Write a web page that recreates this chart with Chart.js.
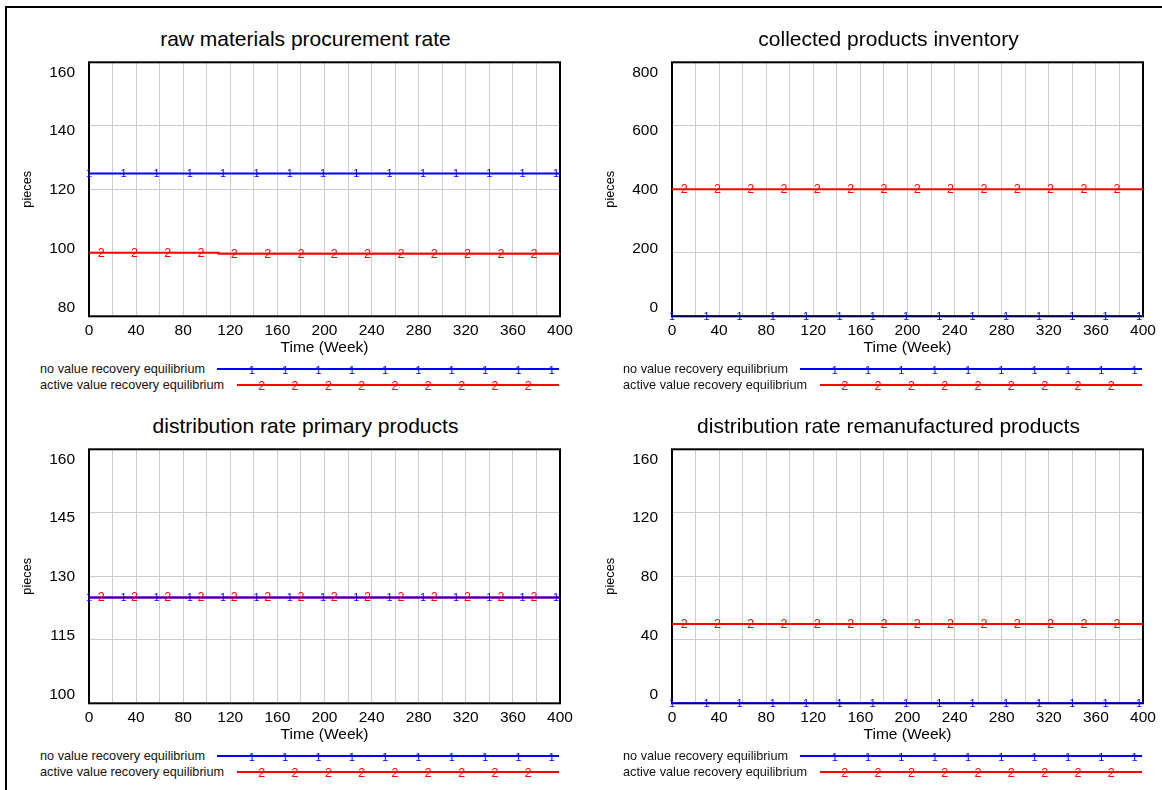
<!DOCTYPE html>
<html>
<head>
<meta charset="utf-8">
<script src="https://cdn.jsdelivr.net/npm/chart.js@4.4.1/dist/chart.umd.min.js"></script>
<style>
  html, body { margin: 0; padding: 0; background: #fff; }
  body { width: 1162px; height: 790px; overflow: hidden; position: relative;
         font-family: "Liberation Sans", Arial, sans-serif; }
  #frame { position: absolute; left: 5px; top: 6px; width: 1200px; height: 850px;
           border: 2px solid #000; box-sizing: border-box; }
  canvas { position: absolute; }
  .panel-title { position: absolute; width: 600px; text-align: center; font-size: 21px;
                 line-height: 25px; color: #000; white-space: nowrap; }
  .leg-text { position: absolute; font-size: 12.7px; line-height: 16px; color: #111; white-space: nowrap; }
  .leg-line { position: absolute; height: 2px; }
  .leg-mark { position: absolute; line-height: 14px; height: 14px; transform: translate(-50%, -50%); }
</style>
</head>
<body>
<div id="frame"></div>
<script>
// ---- time axis ----
const xGridWeeks  = [0, 20, 40, 60, 80, 100, 120, 140, 160, 180, 200, 220, 240, 260, 280, 300, 320, 340, 360, 380, 400];
const xTickLabels = [0, 40, 80, 120, 160, 200, 240, 280, 320, 360, 400];

// ---- series names ----
const seriesNames = ['no value recovery equilibrium', 'active value recovery equilibrium'];

// ---- raw materials procurement rate (pieces) ----
const procurementNoRecovery = [{ x: 0, y: 125 }, { x: 400, y: 125 }];
const procurementActive     = [{ x: 0, y: 100 }, { x: 110, y: 100 }, { x: 110, y: 99.7 }, { x: 400, y: 99.7 }];
const procurementTicks      = [80, 100, 120, 140, 160];

// ---- collected products inventory (pieces) ----
const inventoryNoRecovery = [{ x: 0, y: 0 }, { x: 400, y: 0 }];
const inventoryActive     = [{ x: 0, y: 400 }, { x: 400, y: 400 }];
const inventoryTicks      = [0, 200, 400, 600, 800];

// ---- distribution rate primary products (pieces) ----
const primaryNoRecovery = [{ x: 0, y: 125 }, { x: 400, y: 125 }];
const primaryActive     = [{ x: 0, y: 125 }, { x: 400, y: 125 }];
const primaryTicks      = [100, 115, 130, 145, 160];

// ---- distribution rate remanufactured products (pieces) ----
const remanNoRecovery = [{ x: 0, y: 0 }, { x: 400, y: 0 }];
const remanActive     = [{ x: 0, y: 50 }, { x: 400, y: 50 }];
const remanTicks      = [0, 40, 80, 120, 160];

// ---- weeks where the series number markers sit on each line ----
const markWeeksNoRecovery = [0, 29.3, 57.4, 85.7, 113.9, 142.2, 170.5, 198.8, 227, 255.3, 283.6, 311.8, 340, 368.3, 396.6];
const markWeeksActive     = [10.3, 38.6, 66.9, 95.1, 123.4, 151.7, 180, 208.3, 236.6, 264.9, 293.1, 321.5, 349.8, 378];

const FONT = '"Liberation Sans", Arial, sans-serif';
const BLUE = '#0000ff';
const RED = '#ff0000';
const GRID = '#cccccc';

// value of a piecewise series at a given week (last point at or before it)
function valueAt(points, week) {
  let v = points[0].y;
  for (const p of points) { if (p.x <= week) v = p.y; }
  return v;
}

// plot frame, series number markers and evenly spread y labels
const vensimStyle = {
  id: 'vensimStyle',
  beforeDraw(chart) {
    const items = chart.scales.y.getLabelItems();
    const n = items.length;
    items.forEach((it, i) => {
      if (!it._shifted) {
        it.options.translation[1] += -9 + 19 * (i / (n - 1));
        it._shifted = true;
      }
    });
  },
  beforeDatasetsDraw(chart) {
    const { ctx, chartArea: a } = chart;
    ctx.save();
    ctx.strokeStyle = '#000';
    ctx.lineWidth = 2;
    ctx.strokeRect(a.left, a.top, a.right - a.left, a.bottom - a.top);
    ctx.restore();
  },
  afterDatasetsDraw(chart) {
    const { ctx } = chart;
    const xs = chart.scales.x, ys = chart.scales.y;
    ctx.save();
    ctx.textAlign = 'center';
    ctx.textBaseline = 'middle';
    chart.data.datasets.forEach(ds => {
      ctx.fillStyle = ds.borderColor;
      ctx.font = ds.markSize + 'px ' + FONT;
      ds.marks.forEach(w => {
        const x = xs.getPixelForValue(w);
        const y = ys.getPixelForValue(valueAt(ds.data, w));
        ctx.fillText(ds.markText, x, y + 0.5);
      });
    });
    ctx.restore();
  }
};

const panels = [
  { title: 'raw materials procurement rate', l: 89, r: 560, t: 62, b: 316,
    ticks: procurementTicks, s1: procurementNoRecovery, s2: procurementActive },
  { title: 'collected products inventory', l: 672, r: 1143, t: 62, b: 316,
    ticks: inventoryTicks, s1: inventoryNoRecovery, s2: inventoryActive },
  { title: 'distribution rate primary products', l: 89, r: 560, t: 449, b: 703,
    ticks: primaryTicks, s1: primaryNoRecovery, s2: primaryActive },
  { title: 'distribution rate remanufactured products', l: 672, r: 1143, t: 449, b: 703,
    ticks: remanTicks, s1: remanNoRecovery, s2: remanActive }
];

function makePanel(p) {
  const yW = 80, topPad = 20, xH = 45, rightPad = 30;
  let width = yW + (p.r - p.l) + rightPad;
  let height = topPad + (p.b - p.t) + xH;

  // panel heading
  const h = document.createElement('div');
  h.className = 'panel-title';
  h.textContent = p.title;
  h.style.left = (p.l + 216.5 - 300) + 'px';
  h.style.top = (p.t - 36) + 'px';
  document.body.appendChild(h);

  const cv = document.createElement('canvas');
  cv.width = width; cv.height = height;
  cv.style.width = width + 'px'; cv.style.height = height + 'px';
  document.body.appendChild(cv);

  const chart = new Chart(cv, {
    type: 'line',
    data: {
      datasets: [
        { label: seriesNames[0], data: p.s1, borderColor: BLUE, borderWidth: 2, pointRadius: 0,
          tension: 0, marks: markWeeksNoRecovery, markText: '1', markSize: 11 },
        { label: seriesNames[1], data: p.s2, borderColor: RED, borderWidth: 2, pointRadius: 0,
          tension: 0, marks: markWeeksActive, markText: '2', markSize: 12.5 }
      ]
    },
    options: {
      responsive: false,
      maintainAspectRatio: false,
      animation: false,
      devicePixelRatio: 1,
      layout: { padding: { left: 0, right: rightPad, top: topPad, bottom: 0 } },
      plugins: {
        legend: { display: false },
        tooltip: { enabled: false },
        title: { display: false }
      },
      scales: {
        x: {
          type: 'linear', min: 0, max: 400,
          afterBuildTicks: s => { s.ticks = xGridWeeks.map(v => ({ value: v })); },
          afterFit: s => { s.height = xH; },
          ticks: {
            autoSkip: false, maxRotation: 0, padding: 5, color: '#000',
            font: { family: FONT, size: 15.5 },
            callback: v => (xTickLabels.includes(v) ? String(v) : '')
          },
          grid: { color: GRID, lineWidth: 1, drawTicks: false },
          border: { display: false },
          title: {
            display: true, text: 'Time (Week)', color: '#000',
            font: { family: FONT, size: 15.5 }, padding: { top: 0, bottom: 4.7 }
          }
        },
        y: {
          type: 'linear', min: p.ticks[0], max: p.ticks[p.ticks.length - 1],
          afterBuildTicks: s => { s.ticks = p.ticks.map(v => ({ value: v })); },
          afterFit: s => { s.width = yW; },
          ticks: { padding: 14, color: '#000', font: { family: FONT, size: 15.5 } },
          grid: { color: GRID, lineWidth: 1, drawTicks: false },
          border: { display: false },
          title: {
            display: true, text: 'pieces', color: '#000',
            font: { family: FONT, size: 12.7 }, padding: { top: 10.9, bottom: 0 }
          }
        }
      }
    },
    plugins: [vensimStyle]
  });

  // size the canvas so the plot area spans exactly the panel box, then place it
  const a0 = chart.chartArea;
  const dh = (p.b - p.t) - (a0.bottom - a0.top);
  const dw = (p.r - p.l) - (a0.right - a0.left);
  if (Math.abs(dh) > 0.01 || Math.abs(dw) > 0.01) {
    width += dw; height += dh;
    cv.style.width = width + 'px'; cv.style.height = height + 'px';
    chart.resize(width, height);
  }
  const a = chart.chartArea;
  cv.style.left = (p.l - a.left) + 'px';
  cv.style.top = (p.t - a.top) + 'px';

  addLegend(p);
}

function addLegend(p) {
  const rows = [
    { name: seriesNames[0], color: BLUE, dy: 53, start: 128, first: 162.7, count: 10, mark: '1', size: 11 },
    { name: seriesNames[1], color: RED, dy: 69, start: 148, first: 172.7, count: 9, mark: '2', size: 12.5 }
  ];
  rows.forEach(row => {
    const y = p.b + row.dy;
    const txt = document.createElement('div');
    txt.className = 'leg-text';
    txt.textContent = row.name;
    txt.style.left = (p.l - 49) + 'px';
    txt.style.top = (y - 8.5) + 'px';
    document.body.appendChild(txt);

    const ln = document.createElement('div');
    ln.className = 'leg-line';
    ln.style.background = row.color;
    ln.style.left = (p.l + row.start) + 'px';
    ln.style.width = (p.r - 1 - (p.l + row.start)) + 'px';
    ln.style.top = (y - 1) + 'px';
    document.body.appendChild(ln);

    for (let k = 0; k < row.count; k++) {
      const m = document.createElement('div');
      m.className = 'leg-mark';
      m.textContent = row.mark;
      m.style.color = row.color;
      m.style.fontSize = row.size + 'px';
      m.style.left = (p.l + row.first + k * 33.33) + 'px';
      m.style.top = (y + 0.5) + 'px';
      document.body.appendChild(m);
    }
  });
}

panels.forEach(makePanel);
</script>
</body>
</html>
